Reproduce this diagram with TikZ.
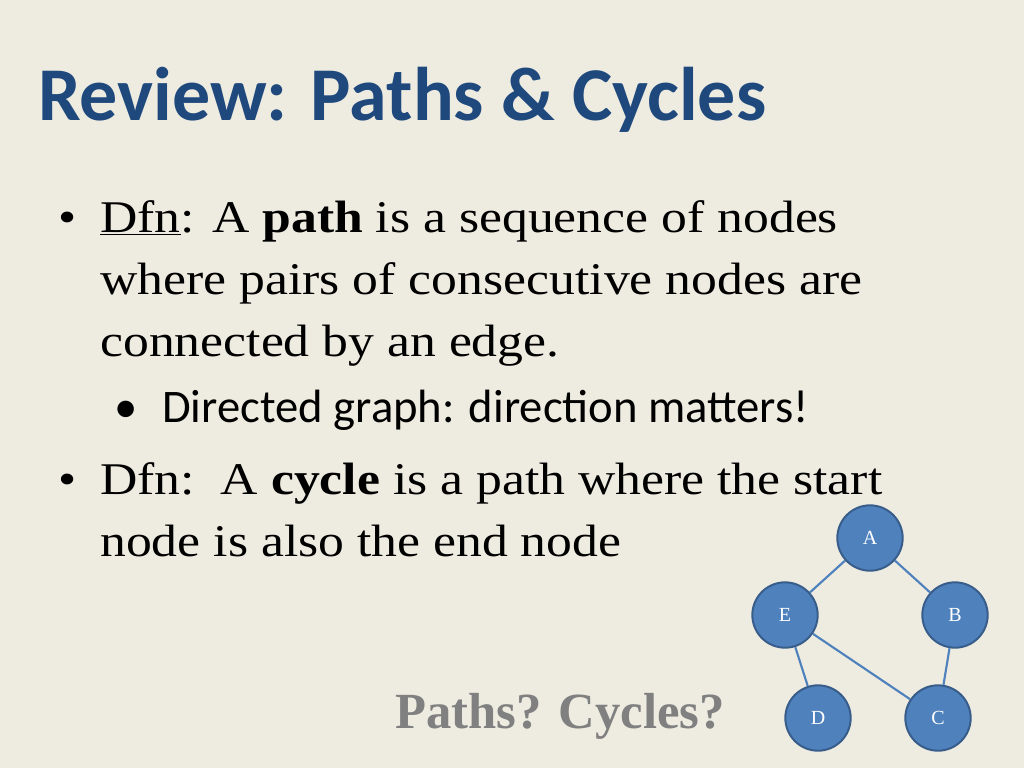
\documentclass[tikz,border=0pt]{standalone}
\usepackage{fontspec}
\setmainfont{Liberation Serif}
\newfontfamily\calfont{Carlito}
\definecolor{bg}{HTML}{EEECE1}
\definecolor{ttl}{HTML}{1F497D}
\definecolor{nfill}{HTML}{4F81BD}
\definecolor{nline}{HTML}{385D8A}
\begin{document}
\begin{tikzpicture}[x=0.75pt,y=-0.75pt,
  gnode/.style={circle,fill=nfill,draw=nline,line width=1.5pt,minimum size=49pt,inner sep=0pt,text=white,font=\fontsize{15}{15}\selectfont},
  gedge/.style={draw=nfill,line width=1.6pt},
  body/.style={anchor=base west,inner sep=0pt,xscale=1.14,font=\fontsize{34}{34}\selectfont}]
\fill[bg] (0,0) rectangle (1024,768);
\node[anchor=base west,inner sep=0pt,text=ttl,font=\calfont\bfseries\fontsize{57}{57}\selectfont] (title) at (38,120) {Review: Paths \& Cycles};
\node[body] (b1) at (58,232) {•};
\node[body] (l1) at (100,232) {\underline{Dfn}: A \textbf{path} is a sequence of nodes};
\node[body] (l2) at (100,294) {where pairs of consecutive nodes are};
\node[body] (l3) at (100,356) {connected by an edge.};
\node[anchor=base west,inner sep=0pt,font=\calfont\fontsize{35}{35}\selectfont] (b2) at (114,422) {•};
\node[anchor=base west,inner sep=0pt,font=\calfont\fontsize{35}{35}\selectfont] (l4) at (162,422) {Directed graph: direction matters!};
\node[body] (b3) at (58,494) {•};
\node[body] (l5) at (100,494) {Dfn:\ \ A \textbf{cycle} is a path where the start};
\node[body] (l6) at (100,556) {node is also the end node};
\node[anchor=base,inner sep=0pt,text=black!50,font=\bfseries\fontsize{38}{38}\selectfont] (q) at (560,728) {Paths? Cycles?};
\node[gnode] (A) at (870,538) {A};
\node[gnode] (E) at (785,615) {E};
\node[gnode] (B) at (955,615) {B};
\node[gnode] (D) at (818,718) {D};
\node[gnode] (C) at (938,718) {C};
\draw[gedge] (A)--(E); \draw[gedge] (A)--(B); \draw[gedge] (E)--(D);
\draw[gedge] (E)--(C); \draw[gedge] (B)--(C);
\end{tikzpicture}
\end{document}
